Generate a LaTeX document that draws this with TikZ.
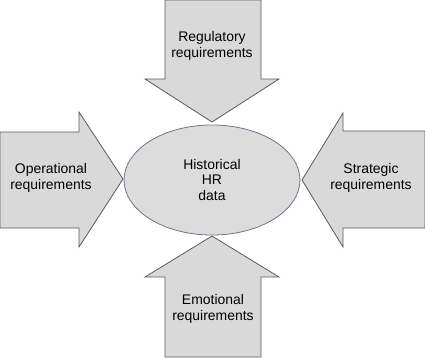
\documentclass[tikz,border=0pt]{standalone}
\usepackage{fontspec}
\setmainfont{Liberation Sans}
\definecolor{blockgray}{HTML}{D9D9D9}
\definecolor{hubgray}{HTML}{DCDCDC}
\definecolor{edgegray}{HTML}{5A5A5A}
\tikzset{
  blockarrow/.style={fill=blockgray, draw=edgegray, line width=0.8bp, line join=miter},
  label/.style={align=center, inner sep=0pt, font=\fontsize{14}{15.5}\selectfont}
}
\begin{document}
\begin{tikzpicture}[x=1bp, y=-1bp]
\useasboundingbox (0,0) rectangle (425,358);
\draw[blockarrow] (165,0) -- (261,0) -- (261,79) -- (279,79) -- (212,122) -- (145,79) -- (165,79) -- cycle;
\draw[blockarrow] (165,357) -- (261,357) -- (261,277) -- (279,277) -- (212,236) -- (145,277) -- (165,277) -- cycle;
\draw[blockarrow] (0,132) -- (79,132) -- (79,112) -- (123,179) -- (79,247) -- (79,228) -- (0,228) -- cycle;
\draw[blockarrow] (425,131) -- (343,131) -- (343,113) -- (302,180) -- (343,247) -- (343,228) -- (425,228) -- cycle;
\draw[fill=hubgray, draw=gray!90!blue, line width=0.8bp] (212,180) ellipse [x radius=88, y radius=55];

\node[label] (hub) at (212,180) {Historical\\HR\\data};
\node[label] (reg) at (212,46) {Regulatory\\requirements};
\node[label] (ops) at (51,178) {Operational\\requirements};
\node[label] (strat) at (371,178) {Strategic\\requirements};
\node[label] (emo) at (213,309) {Emotional\\requirements};
\end{tikzpicture}
\end{document}
